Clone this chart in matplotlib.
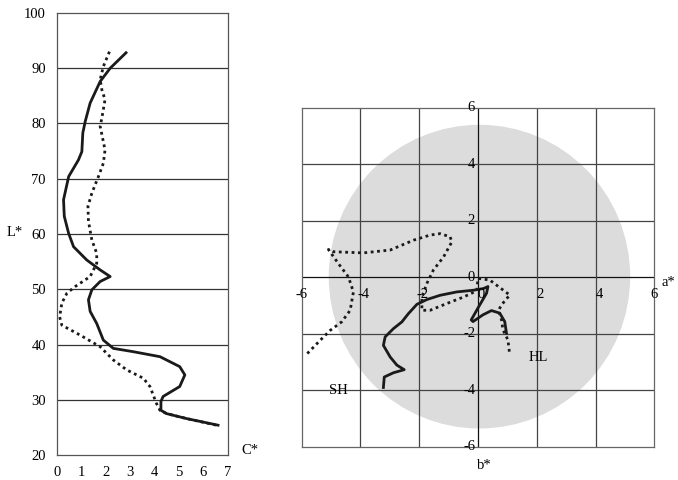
import numpy as np
import matplotlib.pyplot as plt
from matplotlib.patches import Ellipse

plt.rcParams['font.family'] = ['Liberation Serif', 'DejaVu Serif']
plt.rcParams['font.size'] = 10.5

# left panel: C* vs L*
solid_c = [2.83, 2.18, 1.77, 1.36, 1.16, 1.06, 1.02, 0.88, 0.48, 0.27, 0.30, 0.48, 0.68,
           1.22, 1.77, 2.18, 1.77, 1.43, 1.29, 1.36, 1.63, 1.90, 2.31, 3.13, 4.22, 5.03,
           5.24, 5.03, 4.35, 4.26, 4.26, 4.49, 5.31, 6.60]
solid_l = [92.8, 90.0, 87.6, 83.7, 80.4, 78.3, 74.9, 73.4, 70.4, 66.2, 63.2, 60.1, 57.7,
           55.3, 53.5, 52.3, 51.4, 49.9, 48.1, 46.0, 43.8, 40.8, 39.3, 38.7, 37.8, 36.0,
           34.5, 32.4, 30.6, 29.7, 28.1, 27.5, 26.6, 25.4]
dot_c = [2.15, 1.90, 1.77, 1.84, 1.97, 1.84, 1.77, 1.84, 1.97, 1.90, 1.70, 1.43, 1.27,
         1.29, 1.43, 1.63, 1.63, 1.36, 0.75, 0.41, 0.20, 0.11, 0.20, 0.95, 1.77, 2.31,
         2.86, 3.54, 3.81, 4.08, 4.22, 4.49, 5.31, 6.53]
dot_l = [93.0, 90.3, 87.9, 86.1, 84.3, 81.0, 79.5, 78.0, 75.2, 72.8, 70.4, 67.4, 65.0,
         62.3, 58.9, 56.5, 54.7, 52.3, 50.5, 49.3, 47.5, 45.0, 43.5, 41.7, 39.6, 37.2,
         35.4, 33.9, 32.4, 29.3, 28.1, 27.5, 26.6, 25.4]

# right panel: a* vs b*
solid_a = [-3.22, -3.19, -2.88, -2.51, -2.76, -2.99, -3.22, -3.16, -2.88, -2.59, -2.37,
           -2.08, -1.74, -1.29, -0.72, -0.15, 0.19, 0.34, 0.29, 0.06, -0.23, -0.17, 0.17,
           0.46, 0.74, 0.91, 0.97]
solid_b = [-3.90, -3.53, -3.38, -3.27, -3.11, -2.82, -2.41, -2.11, -1.82, -1.58, -1.29,
           -0.96, -0.79, -0.64, -0.52, -0.46, -0.40, -0.33, -0.57, -0.98, -1.51, -1.57,
           -1.33, -1.18, -1.27, -1.57, -1.98]
dot_a = [-5.81, -5.37, -5.03, -4.64, -4.35, -4.24, -4.41, -4.75, -5.09, -4.92, -3.90,
         -2.99, -2.19, -1.63, -1.29, -0.95, -0.89, -1.17, -1.52, -1.74, -1.91, -1.91,
         -1.63, -1.06, -0.49, -0.04, 0.00, 0.40, 1.08, 0.80, 0.70, 0.80, 0.85, 1.02, 1.08]
dot_b = [-2.70, -2.23, -1.88, -1.58, -1.17, -0.52, 0.01, 0.48, 0.98, 0.90, 0.86,
         0.96, 1.31, 1.49, 1.54, 1.43, 1.25, 0.72, 0.25, -0.22, -0.70, -1.17,
         -1.17, -0.93, -0.70, -0.48, -0.04, -0.10, -0.63, -0.98, -1.17, -1.51, -1.86, -2.22, -2.75]

fig = plt.figure(figsize=(6.78, 4.8), dpi=100)

# ---- left chart
ax1 = fig.add_axes([0.084, 0.052, 0.252, 0.921])
ax1.plot(solid_c, solid_l, color='#1a1a1a', lw=2)
ax1.plot(dot_c, dot_l, color='#1a1a1a', lw=2, ls=(0, (1, 1.3)))
ax1.set_xlim(0, 7)
ax1.set_ylim(20, 100)
ax1.set_xticks(range(0, 8))
ax1.set_yticks(range(20, 101, 10))
for y in range(30, 100, 10):
    ax1.axhline(y, color='#333333', lw=0.9, zorder=0)
for s in ax1.spines.values():
    s.set_color('#555555')
    s.set_linewidth(0.9)
ax1.tick_params(length=0, pad=8)
ax1.text(7.55, 20.9, 'C*', ha='left', va='center')
fig.text(15 / 678, 1 - 233 / 480, 'L*', ha='center', va='center')

# ---- right chart
ax2 = fig.add_axes([0.445, 0.069, 0.520, 0.707])
ax2.add_patch(Ellipse((0.05, 0.02), 2 * 5.13, 2 * 5.37, color='#dcdcdc', lw=0, zorder=0))
for v in range(-4, 6, 2):
    c = '#111111' if v == 0 else '#444444'
    ax2.axvline(v, color=c, lw=0.9, zorder=1)
    ax2.axhline(v, color=c, lw=0.9, zorder=1)
ax2.plot(solid_a, solid_b, color='#1a1a1a', lw=2, zorder=3)
ax2.plot(dot_a, dot_b, color='#1a1a1a', lw=2, ls=(0, (1, 1.3)), zorder=3)
ax2.set_xlim(-6, 6)
ax2.set_ylim(-6, 6)
ax2.set_xticks([])
ax2.set_yticks([])
for s in ax2.spines.values():
    s.set_color('#666666')
    s.set_linewidth(0.9)
for v in range(-6, 7, 2):
    ax2.text(v + (0.12 if abs(v) < 6 else 0), -0.62, str(v), ha='center', va='center')
for v in range(-6, 7, 2):
    ax2.text(-0.1, v, str(v), ha='right', va='center')
ax2.text(6.25, -0.2, 'a*', ha='left', va='center')
ax2.text(0.2, -6.65, 'b*', ha='center', va='center')
ax2.text(-4.75, -4.0, 'SH', ha='center', va='center')
ax2.text(2.05, -2.85, 'HL', ha='center', va='center')

fig.savefig('out.png', dpi=100)
